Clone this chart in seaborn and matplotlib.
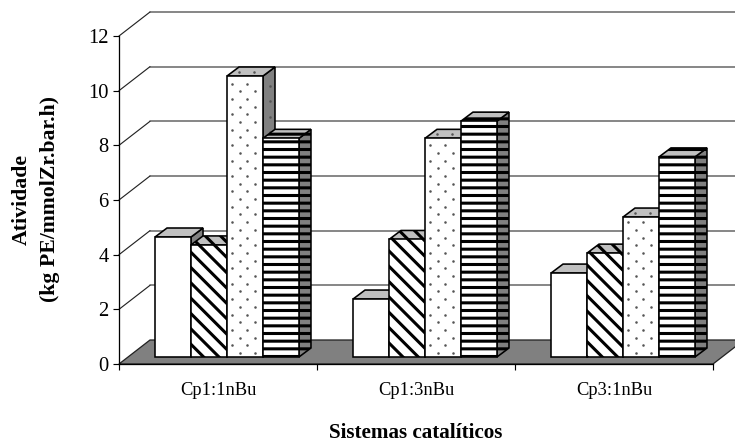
import matplotlib
matplotlib.use('Agg')
import matplotlib as mpl
import matplotlib.pyplot as plt
from matplotlib.patches import Polygon
import numpy as np
import pandas as pd
import seaborn as sns

sistemas = ['Cp1:1nBu', 'Cp1:3nBu', 'Cp3:1nBu']
serie_a = [4.39, 2.12, 3.07]
serie_b = [4.10, 4.30, 3.80]
serie_c = [10.28, 8.00, 5.12]
serie_d = [8.00, 8.63, 7.32]
y_ticks = [0, 2, 4, 6, 8, 10, 12]

W, H, DPI = 735, 443, 92
PX_X = 594 / 3      # pixels per category
PX_Y = 328 / 12     # pixels per y unit

sns.set_theme(style='white')
plt.rcParams['font.family'] = ['Liberation Serif', 'DejaVu Serif']
plt.rcParams['hatch.linewidth'] = 2.4

df = pd.DataFrame({
    'sistema': sistemas * 4,
    'serie': ['a'] * 3 + ['b'] * 3 + ['c'] * 3 + ['d'] * 3,
    'atividade': serie_a + serie_b + serie_c + serie_d,
})

fig = plt.figure(figsize=(W / DPI, H / DPI), dpi=DPI, facecolor='white')
ax = fig.add_axes([119 / W, 1 - 364 / H, 594 / W, 328 / H])
sns.barplot(data=df, x='sistema', y='atividade', hue='serie', order=sistemas,
            palette=['white'] * 4, saturation=1, width=0.727, gap=0, errorbar=None,
            edgecolor='black', linewidth=1.25, legend=False, ax=ax)

x0, x1 = -0.5, 2.5
ax.set_xlim(x0, x1)
ax.set_ylim(0, 12)
wall_dx, wall_dy = 31 / PX_X, 24 / PX_Y
base_dx, base_dy = 9 / PX_X, 7 / PX_Y
bar_dx, bar_dy = 12 / PX_X, 9 / PX_Y

# floor
ax.add_patch(Polygon([(x0, 0), (x1, 0), (x1 + wall_dx, wall_dy), (x0 + wall_dx, wall_dy)],
                     closed=True, facecolor='#808080', edgecolor='#222222', lw=1.0,
                     clip_on=False, zorder=0.5))
# back wall and left wall
for v in y_ticks[1:]:
    ax.plot([x0 + wall_dx, x1 + wall_dx], [v + wall_dy] * 2, color='#666666', lw=1.2,
            clip_on=False, zorder=0.2)
    ax.plot([x0, x0 + wall_dx], [v, v + wall_dy], color='#222222', lw=0.9,
            clip_on=False, zorder=0.2)


def thin_hatch(patch, width):
    draw = patch.draw

    def wrapped(renderer):
        with mpl.rc_context({'hatch.linewidth': width}):
            draw(renderer)
    patch.draw = wrapped


def dots(xs, ys, order):
    ax.plot(xs, ys, ls='none', marker='o', ms=2.0, mew=0, color='#555555',
            clip_on=False, zorder=order)


hatches = [None, '\\\\', None, '--']
widths = [None, 1.5, None, 2.4]
for s, cont in enumerate(ax.containers):
    for g, bar in enumerate(cont):
        order = 3 + g * 10 + s * 2
        bar.set_x(bar.get_x() + base_dx)
        bar.set_y(base_dy)
        bar.set_zorder(order + 1)
        bar.set_clip_on(False)
        hatch = hatches[s]
        left = bar.get_x()
        right = left + bar.get_width()
        top = base_dy + bar.get_height()
        side = Polygon([(right, base_dy), (right + bar_dx, base_dy + bar_dy),
                        (right + bar_dx, top + bar_dy), (right, top)],
                       closed=True, facecolor='#808080', edgecolor='black', lw=1.25,
                       hatch=hatch if s != 1 else None, clip_on=False, zorder=order)
        roof = Polygon([(left, top), (left + bar_dx, top + bar_dy),
                        (right + bar_dx, top + bar_dy), (right, top)],
                       closed=True, facecolor='#c0c0c0', edgecolor='black', lw=1.25,
                       hatch=hatch, clip_on=False, zorder=order)
        ax.add_patch(side)
        ax.add_patch(roof)
        if hatch:
            thin_hatch(side, widths[s])
            thin_hatch(roof, widths[s])
            thin_hatch(bar, widths[s])
            bar.set_hatch(hatch)
        if s == 2:
            # dotted texture, staggered rows
            rows = np.arange(base_dy + 4 / PX_Y, top - 2 / PX_Y, 7.7 / PX_Y)
            for r, yy in enumerate(rows):
                cols = np.arange(left + (5 if r % 2 else 12.5) / PX_X, right - 1 / PX_X, 15 / PX_X)
                dots(cols, [yy] * len(cols), order + 1.5)
            dots([right + bar_dx * 0.6] * len(rows[::2]), rows[::2] + bar_dy * 0.6, order + 0.5)
            roof_x = np.arange(left + 12 / PX_X, right, 15 / PX_X)
            dots(roof_x, [top + bar_dy * 0.5] * len(roof_x), order + 0.5)

for name in ['top', 'right']:
    ax.spines[name].set_visible(False)
for name in ['left', 'bottom']:
    ax.spines[name].set_color('black')
    ax.spines[name].set_linewidth(1.0)
    ax.spines[name].set_zorder(1)

ax.set_yticks(y_ticks)
ax.tick_params(axis='y', which='major', length=5, width=0.9, color='black', left=True,
               labelsize=16, pad=3, labelcolor='black')
ax.set_xticks([x0 + i for i in range(4)])
ax.set_xticklabels([])
ax.set_xticks(range(3), minor=True)
ax.set_xticklabels(sistemas, minor=True, fontsize=14.5, color='black')
ax.tick_params(axis='x', which='major', length=5, width=0.9, color='black', bottom=True)
ax.tick_params(axis='x', which='minor', length=0, pad=14)

ax.set_xlabel('')
ax.set_ylabel('')
fig.text(416 / W, 1 - 433 / H, 'Sistemas catalíticos', ha='center', va='center',
         fontsize=16.5, fontweight='bold', color='black')
fig.text(36 / W, 1 - 199 / H, 'Atividade\n(kg PE/mmolZr.bar.h)', ha='center', va='center',
         rotation=90, fontsize=17, fontweight='bold', color='black', linespacing=1.5)

fig.savefig('out.png', dpi=DPI, facecolor='white')
